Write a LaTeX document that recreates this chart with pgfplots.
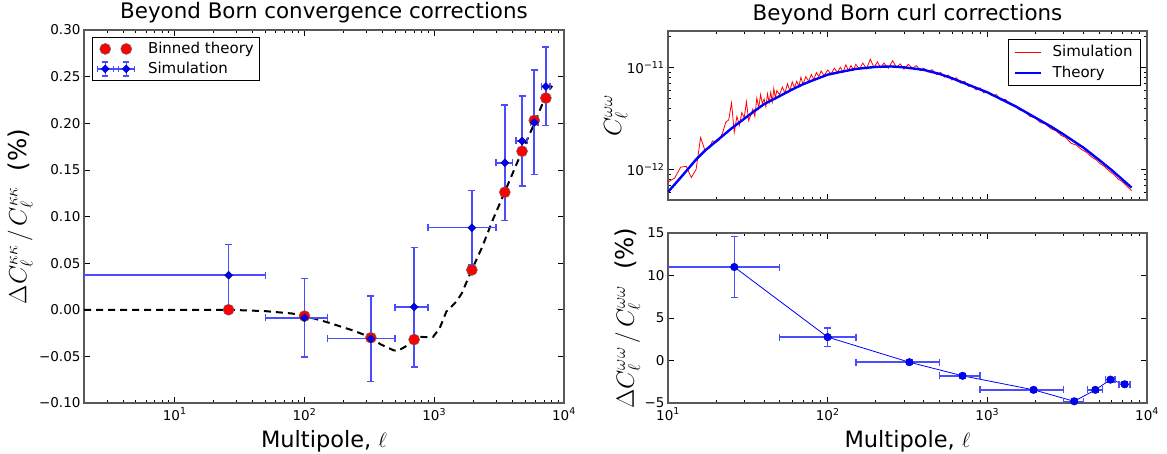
\documentclass[border=0pt]{standalone}
\usepackage{fontspec}
\setmainfont{DejaVu Sans}
\usepackage{pgfplots}
\pgfplotsset{compat=1.18}
\usepackage{pgfplotstable}

\definecolor{errblue}{rgb}{0.3,0.3,1}
\definecolor{framegray}{gray}{0.35}

% ---------- left panel data ----------
\pgfplotstableread{
x     y
2     0
10    0
26    0
50    -0.0015
80    -0.004
100   -0.0065
150   -0.0134
240   -0.0225
325   -0.0297
385   -0.037
486   -0.0435
525   -0.044
645   -0.037
770   -0.029
900   -0.0295
980   -0.029
1100  -0.020
1240  -0.002
1480  0.0086
1630  0.0176
1950  0.043
2320  0.066
2830  0.0965
3490  0.126
4040  0.147
4750  0.170
6050  0.203
7360  0.232
8100  0.240
}\theoryline

\pgfplotstableread{
x     y
26    0.000
100   -0.0068
325   -0.030
700   -0.032
1950  0.0427
3500  0.126
4750  0.170
5900  0.203
7250  0.227
}\bintheory

\pgfplotstableread{
x     y        ex    ey
26    0.037    24    0.033
100   -0.0086  50    0.042
325   -0.031   175   0.046
700   0.0029   200   0.064
1950  0.088    1050  0.040
3500  0.1576   500   0.062
4750  0.181    500   0.048
5900  0.201    400   0.056
7250  0.2395   550   0.042
}\simconv

% ---------- right top data ----------
\pgfplotstableread{
x     y
10    6.0e-13
11    7.1e-13
12    8.3e-13
13    9.6e-13
15    1.25e-12
17    1.52e-12
20    1.88e-12
25    2.52e-12
30    3.13e-12
35    3.75e-12
40    4.36e-12
50    5.22e-12
60    6.07e-12
70    6.82e-12
80    7.41e-12
100   8.47e-12
120   9.0e-12
150   9.64e-12
200   1.01e-11
250   1.02e-11
300   1.0e-11
400   9.44e-12
500   8.63e-12
600   7.83e-12
800   6.53e-12
1000  5.69e-12
1500  4.15e-12
2000  3.21e-12
2500  2.63e-12
3000  2.2e-12
4000  1.63e-12
5000  1.24e-12
6000  9.84e-13
7000  7.96e-13
8000  6.62e-13
}\theorycurl

\pgfplotstableread{
x     y
10    7.5e-13
11    8.2e-13
12    1.05e-12
13    1.07e-12
14    8.3e-13
15    1.0e-12
16    2.05e-12
17    1.55e-12
18    1.6e-12
19    1.9e-12
20    1.85e-12
21    1.95e-12
22    2.3e-12
23    2.9e-12
24    3.05e-12
25    4.5e-12
26    2.3e-12
27    3.3e-12
28    2.7e-12
29    3.6e-12
30    3.2e-12
31    4.6e-12
32    3.0e-12
33    3.4e-12
34    3.9e-12
35    3.3e-12
36    5.0e-12
37    4.0e-12
38    5.4e-12
39    4.4e-12
40    4.9e-12
41    4.1e-12
42    5.5e-12
43    4.5e-12
44    5.7e-12
45    4.6e-12
46    6.2e-12
47    5.0e-12
48    5.9e-12
50    5.4e-12
52    6.4e-12
54    5.6e-12
56    6.9e-12
58    5.9e-12
60    7.2e-12
62    6.3e-12
64    7.3e-12
66    6.5e-12
68    8.0e-12
70    6.8e-12
73    8.1e-12
76    7.3e-12
79    8.5e-12
82    7.6e-12
85    8.9e-12
88    8.1e-12
91    9.2e-12
95    8.3e-12
100   9.4e-12
105   8.6e-12
110   9.8e-12
115   8.9e-12
120   1.0e-11
125   9.0e-12
130   1.06e-11
135   9.3e-12
140   1.04e-11
145   9.4e-12
150   1.07e-11
158   9.6e-12
166   1.1e-11
175   9.7e-12
185   1.2e-11
195   1.0e-11
205   1.13e-11
215   9.9e-12
225   1.1e-11
240   9.8e-12
255   1.16e-11
270   1.0e-11
285   1.08e-11
300   9.6e-12
320   1.07e-11
340   9.8e-12
360   1.04e-11
380   9.3e-12
400   9.8e-12
425   9.0e-12
450   9.5e-12
480   8.5e-12
510   8.9e-12
540   8.0e-12
570   8.4e-12
600   7.5e-12
640   7.9e-12
680   7.0e-12
720   7.3e-12
760   6.5e-12
800   6.7e-12
850   6.0e-12
900   6.3e-12
950   5.6e-12
1000  5.8e-12
1070  5.25e-12
1140  5.4e-12
1220  4.75e-12
1300  4.85e-12
1400  4.3e-12
1500  4.2e-12
1600  3.8e-12
1700  3.75e-12
1850  3.3e-12
2000  3.2e-12
2150  2.87e-12
2300  2.8e-12
2500  2.5e-12
2700  2.38e-12
2900  2.15e-12
3100  2.05e-12
3350  1.8e-12
3600  1.73e-12
3900  1.56e-12
4200  1.46e-12
4500  1.32e-12
4800  1.24e-12
5100  1.13e-12
5400  1.07e-12
5800  9.6e-13
6200  8.9e-13
6600  8.0e-13
7000  7.6e-13
7500  6.8e-13
8000  6.2e-13
}\simcurl

% ---------- right bottom data ----------
\pgfplotstableread{
x     y      ex    ey
26    11.0   24    3.6
100   2.75   50    1.1
325   -0.2   175   0.25
700   -1.8   200   0.25
1950  -3.45  1050  0.25
3500  -4.8   500   0.25
4750  -3.45  500   0.25
5900  -2.25  400   0.25
7250  -2.8   550   0.25
}\curlratio

\pgfplotsset{
  myaxis/.style={
    scale only axis,
    axis line style={framegray, line width=1.3pt},
    tick align=inside,
    every tick/.style={black, line width=0.7pt},
    major tick length=6pt,
    minor tick length=3pt,
    tick label style={font=\fontsize{13.5}{16}\selectfont},
    xticklabel style={yshift=-1.5pt},
    label style={font=\fontsize{22.5}{27}\selectfont},
    ylabel style={font=\fontsize{24.5}{29}\selectfont},
    title style={font=\fontsize{21.4}{25}\selectfont, at={(axis description cs:0.5,1)}, anchor=base, yshift=5pt},
    xlabel style={at={(axis description cs:0.5,0)}, anchor=base, yshift=-44pt},
    xtick={10,100,1000,10000},
    minor xtick={2,3,4,5,6,7,8,9,20,30,40,50,60,70,80,90,200,300,400,500,600,700,800,900,2000,3000,4000,5000,6000,7000,8000,9000},
  },
}

\begin{document}
\begin{tikzpicture}
\useasboundingbox (0pt,0pt) rectangle (1167pt,453pt);

% ================= LEFT =================
\begin{axis}[myaxis,
  at={(84pt,50pt)}, anchor=south west,
  width=480pt, height=373pt,
  xmode=log, xmin=2, xmax=10000,
  ymin=-0.10, ymax=0.30,
  xticklabels={10\textsuperscript{1},10\textsuperscript{2},10\textsuperscript{3},10\textsuperscript{4}},
  ytick={-0.1,-0.05,0,0.05,0.1,0.15,0.2,0.25,0.3},
  yticklabels={−0.10,−0.05,0.00,0.05,0.10,0.15,0.20,0.25,0.30},
  title={Beyond Born convergence corrections},
  xlabel={Multipole, $\ell$},
  ylabel={$\Delta C_\ell^{\kappa\kappa}\,/\,C_\ell^{\kappa\kappa}$\ \ (\%)},
  ylabel style={at={(axis description cs:-0.133,0.5)}, anchor=center},
  legend style={at={(axis description cs:0,1)}, anchor=north west, xshift=8pt, yshift=-7pt,
    draw=black, line width=1pt, font=\fontsize{15}{18}\selectfont,
    row sep=3pt, column sep=11pt, inner xsep=4pt, inner ysep=3pt,
    nodes={inner sep=2pt}},
  legend cell align=left,
]
\addplot[black, line width=2pt, dash pattern=on 7pt off 5pt, forget plot] table {\theoryline};

\addplot[only marks, mark=*, mark size=5.5pt,
  mark options={fill=red, draw=black!60, line width=0.5pt},
  legend image code/.code={
    \draw plot[only marks, mark=*, mark size=5.5pt, mark options={fill=red, draw=black!60, line width=0.5pt}] coordinates {(0pt,0pt) (21pt,0pt)};
  }] table {\bintheory};
\addlegendentry{Binned theory}

\addplot[only marks, mark=square*, mark size=2.8pt,
  mark options={rotate=45, fill=blue, draw=blue!50!black, line width=0.4pt},
  legend image code/.code={
    \draw[errblue, line width=1.5pt]
      (-8pt,0pt) -- (29pt,0pt)
      (-8pt,-3pt) -- (-8pt,3pt)  (8pt,-3pt) -- (8pt,3pt)
      (13pt,-3pt) -- (13pt,3pt)  (29pt,-3pt) -- (29pt,3pt)
      (0pt,-7pt) -- (0pt,7pt)  (-3pt,-7pt) -- (3pt,-7pt)  (-3pt,7pt) -- (3pt,7pt)
      (21pt,-7pt) -- (21pt,7pt)  (18pt,-7pt) -- (24pt,-7pt)  (18pt,7pt) -- (24pt,7pt);
    \filldraw[fill=blue, draw=blue!50!black, line width=0.4pt]
      (0pt,4pt) -- (4pt,0pt) -- (0pt,-4pt) -- (-4pt,0pt) -- cycle
      (21pt,4pt) -- (25pt,0pt) -- (21pt,-4pt) -- (17pt,0pt) -- cycle;
  },
  error bars/.cd, x dir=both, y dir=both, x explicit, y explicit,
  error bar style={line width=1.6pt, color=errblue},
  error mark options={rotate=90, errblue, line width=1.6pt, mark size=3.5pt},
  ]
  table[x=x, y=y, x error=ex, y error=ey] {\simconv};
\addlegendentry{Simulation}
\end{axis}

% ================= RIGHT TOP =================
\begin{axis}[myaxis,
  at={(668pt,253pt)}, anchor=south west,
  width=479pt, height=169pt,
  xmode=log, ymode=log,
  xmin=10, xmax=10000, ymin=5e-13, ymax=2.27e-11,
  xticklabels={},
  ytick={1e-12,1e-11},
  yticklabels={10\textsuperscript{−12},10\textsuperscript{−11}},
  minor ytick={6e-13,7e-13,8e-13,9e-13,2e-12,3e-12,4e-12,5e-12,6e-12,7e-12,8e-12,9e-12,2e-11},
  title={Beyond Born curl corrections},
  ylabel={$C_\ell^{\omega\omega}$},
  ylabel style={at={(axis description cs:-0.109,0.5)}, anchor=center},
  legend style={at={(axis description cs:1,1)}, anchor=north east, xshift=-6pt, yshift=-8pt,
    draw=black, line width=1pt, font=\fontsize{15}{18}\selectfont,
    row sep=4pt, column sep=8pt, inner xsep=6pt, inner ysep=4pt,
    nodes={inner sep=2pt}},
  legend cell align=left,
]
\addplot[red, line width=0.8pt,
  legend image code/.code={\draw[red, line width=0.8pt] (0pt,0pt) -- (26pt,0pt);}] table {\simcurl};
\addlegendentry{Simulation}
\addplot[blue, line width=2.4pt,
  legend image code/.code={\draw[blue, line width=2.4pt] (0pt,0pt) -- (26pt,0pt);}] table {\theorycurl};
\addlegendentry{Theory}
\end{axis}

% ================= RIGHT BOTTOM =================
\begin{axis}[myaxis,
  at={(668pt,50pt)}, anchor=south west,
  width=479pt, height=170pt,
  xmode=log, xmin=10, xmax=10000,
  ymin=-5, ymax=15,
  xticklabels={10\textsuperscript{1},10\textsuperscript{2},10\textsuperscript{3},10\textsuperscript{4}},
  ytick={-5,0,5,10,15},
  yticklabels={−5,0,5,10,15},
  xlabel={Multipole, $\ell$},
  ylabel={$\Delta C_\ell^{\omega\omega}\,/\,C_\ell^{\omega\omega}$\ \ (\%)},
  ylabel style={at={(axis description cs:-0.084,0.5)}, anchor=center},
]
\addplot[blue, line width=0.8pt, mark=*, mark size=3.8pt,
  mark options={fill=blue, draw=blue!60!black, line width=0.4pt},
  error bars/.cd, x dir=both, y dir=both, x explicit, y explicit,
  error bar style={line width=1.5pt, color=errblue},
  error mark options={rotate=90, errblue, line width=1.5pt, mark size=3.5pt},
  ]
  table[x=x, y=y, x error=ex, y error=ey] {\curlratio};
\end{axis}
\end{tikzpicture}
\end{document}
